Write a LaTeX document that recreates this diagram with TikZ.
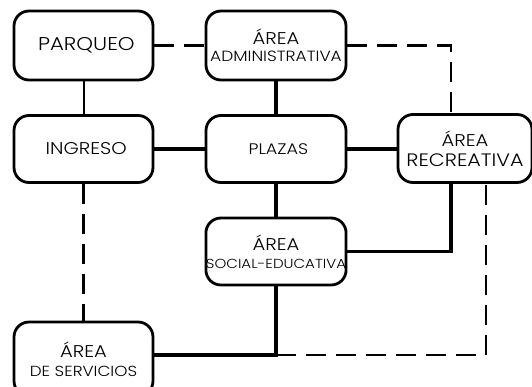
\documentclass[tikz,border=0pt]{standalone}
\usepackage{fontspec}
\setmainfont{Poppins}[UprightFont=* Light, FakeStretch=1.15]
\usetikzlibrary{calc}
\tikzset{
  box/.style={draw=black, line width=2.8pt, rounded corners=15pt, fill=white,
    align=center, inner sep=0pt},
  thick line/.style={line width=3.3pt},
  thin line/.style={line width=2pt},
  dash line/.style={line width=2.2pt, dash pattern=on 20pt off 10pt},
}
\newcommand{\fs}[1]{\fontsize{#1}{#1}\selectfont}
\begin{document}
\lineskiplimit=-100pt
\begin{tikzpicture}[x=1pt,y=-1pt]
\useasboundingbox (0,0) rectangle (532,386);
% nodes
\node[box, minimum width=139pt, minimum height=69pt] (parq) at (83.5,45.5) {\fs{18.5} PARQUEO};
\node[box, font={\fontsize{10}{17}\selectfont}, minimum width=140pt, minimum height=69pt] (admin) at (276,45.5) {{\fs{17}ÁREA}\\{\fs{14.8}ADMINISTRATIVA}};
\node[box, minimum width=139pt, minimum height=67pt] (ingr) at (83.5,149) {\fs{17} INGRESO};
\node[box, minimum width=140pt, minimum height=67pt] (plaz) at (276,149) {\fs{15.3} PLAZAS};
\node[box, font={\fontsize{10}{20}\selectfont}, minimum width=134pt, minimum height=68pt] (recr) at (465,148.5) {{\fs{17}ÁREA}\\{\fs{18}RECREATIVA}};
\node[box, font={\fontsize{10}{18}\selectfont}, minimum width=140pt, minimum height=67pt] (soci) at (276,251.5) {{\fs{17}ÁREA}\\{\fs{13.1}SOCIAL-EDUCATIVA}};
\node[box, font={\fontsize{10}{19}\selectfont}, minimum width=139pt, minimum height=74pt] (serv) at (83.5,359) {{\fs{17}ÁREA}\\{\fs{14.6}DE SERVICIOS}};
\coordinate (xa) at (451,0);
\coordinate (xb) at (486,0);
\coordinate (sj) at (276,355);
% connectors
\draw[thin line] (parq) -- (ingr);
\draw[dash line] (parq) -- (admin);
\draw[dash line] (admin.east) -| (xa |- recr.north);
\draw[thick line] (admin) -- (plaz);
\draw[thick line] (ingr) -- (plaz);
\draw[thick line] (plaz) -- (recr.west |- plaz.east);
\draw[thick line] (plaz) -- (soci);
\draw[thick line] (xa |- recr.south) |- (soci.east);
\draw[dash line] (ingr) -- (serv);
\draw[thick line] (serv.east |- sj) -- (sj) -- (soci.south);
\draw[dash line] (sj) -| (xb |- recr.south);
\end{tikzpicture}
\end{document}
